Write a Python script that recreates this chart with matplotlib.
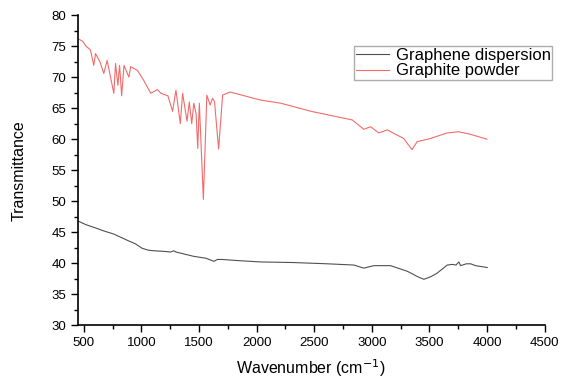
import matplotlib
matplotlib.use("Agg")
import matplotlib.pyplot as plt
from matplotlib.ticker import MultipleLocator

# FTIR spectra
graphene_wn = [450, 520, 600, 674, 760, 877, 950, 1007, 1060, 1108, 1200, 1253, 1282,
               1300, 1455, 1560, 1629, 1660, 1701, 1850, 2034, 2323, 2613, 2844, 2930,
               3017, 3162, 3307, 3400, 3451, 3510, 3567, 3654, 3700, 3730, 3755, 3770,
               3820, 3857, 3900, 4001]
graphene_t = [46.8, 46.2, 45.7, 45.2, 44.7, 43.7, 43.1, 42.4, 42.1, 42.0, 41.9, 41.8, 42.0,
              41.8, 41.1, 40.8, 40.3, 40.6, 40.6, 40.4, 40.2, 40.1, 39.9, 39.7, 39.2,
              39.6, 39.6, 38.7, 37.8, 37.4, 37.8, 38.4, 39.7, 39.8, 39.7, 40.2, 39.6,
              39.9, 39.9, 39.6, 39.3]

graphite_wn = [450, 490, 520, 558, 587, 602, 640, 674, 703, 761, 776, 796, 811, 829,
               849, 892, 907, 966, 1020, 1082, 1140, 1169, 1230, 1271, 1300, 1338, 1358,
               1396, 1416, 1437, 1455, 1475, 1489, 1503, 1538, 1568, 1597, 1617, 1635,
               1670, 1705, 1770, 2036, 2210, 2470, 2830, 2930, 2990, 3060, 3133, 3277,
               3348, 3393, 3507, 3652, 3752, 3853, 3998]
graphite_t = [76.2, 75.8, 75.0, 74.4, 71.9, 73.8, 72.5, 70.6, 72.7, 67.4, 72.2, 68.7,
              71.9, 67.0, 71.9, 70.0, 71.7, 71.1, 69.5, 67.4, 68.0, 67.4, 67.0, 64.5,
              67.9, 62.5, 67.4, 62.9, 66.0, 62.5, 65.8, 64.1, 58.5, 65.8, 50.3, 67.1,
              65.5, 66.6, 66.0, 58.4, 67.1, 67.6, 66.3, 65.8, 64.5, 63.1, 61.6, 62.0,
              61.0, 61.5, 60.1, 58.3, 59.6, 60.1, 61.0, 61.2, 60.8, 60.0]

plt.rcParams["font.family"] = ["Liberation Sans", "DejaVu Sans"]

fig = plt.figure(figsize=(5.61, 3.79), dpi=100)
ax = fig.add_axes([0.139, 0.142, 0.832, 0.818])

ax.plot(graphene_wn, graphene_t, color="#505050", lw=0.8, label="Graphene dispersion")
ax.plot(graphite_wn, graphite_t, color="#f26b6b", lw=0.8, label="Graphite powder")

ax.set_xlim(450, 4500)
ax.set_ylim(30, 80)
ax.xaxis.set_major_locator(MultipleLocator(500))
ax.xaxis.set_minor_locator(MultipleLocator(250))
ax.yaxis.set_major_locator(MultipleLocator(5))
ax.yaxis.set_minor_locator(MultipleLocator(2.5))
ax.tick_params(which="major", length=5, width=1, labelsize=9.5)
ax.tick_params(which="minor", length=3, width=1)
ax.spines["top"].set_visible(False)
ax.spines["right"].set_visible(False)
ax.spines["left"].set_linewidth(1.2)
ax.spines["bottom"].set_linewidth(1.2)

ax.set_xlabel("Wavenumber (cm$^{-1}$)", fontsize=11.5, labelpad=6)
ax.set_ylabel("Transmittance", fontsize=11.5, labelpad=18)

fig.legend(loc="upper left", bbox_to_anchor=(354 / 561, 1 - 46 / 379),
           fontsize=12, frameon=True, fancybox=False, edgecolor="#999999",
           handlelength=2.0, borderpad=0.1, labelspacing=0.05, handletextpad=0.4,
           borderaxespad=0)

fig.savefig("out.png", dpi=100)
